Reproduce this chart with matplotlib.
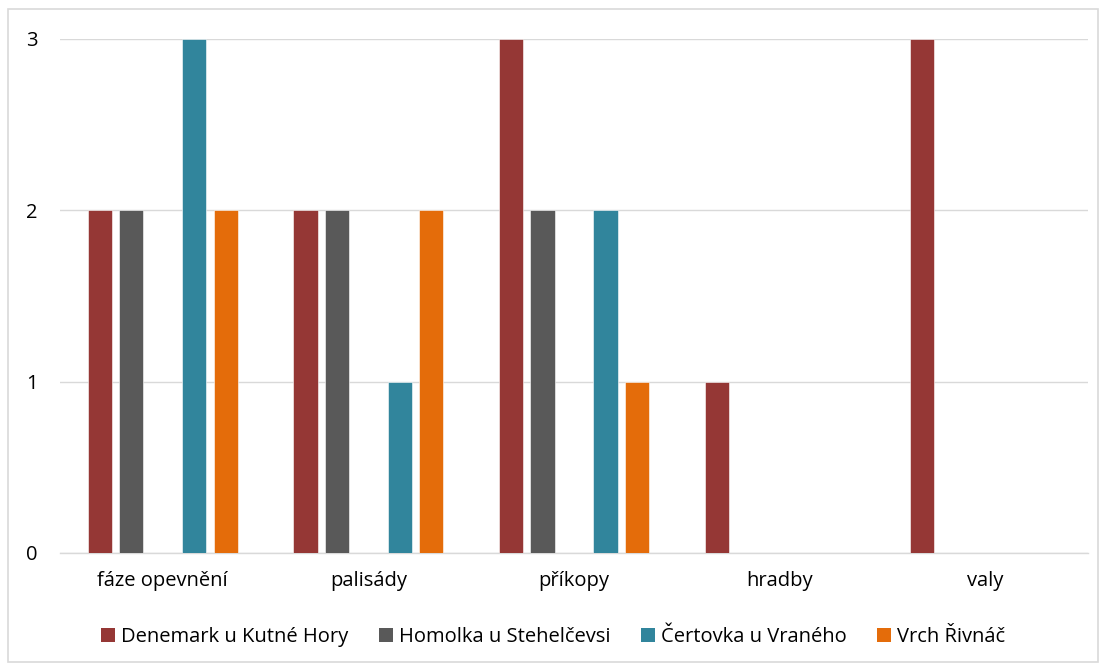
import matplotlib
matplotlib.use("Agg")
import matplotlib.pyplot as plt
from matplotlib.patches import Rectangle, Patch
import numpy as np

categories = ["fáze opevnění", "palisády", "příkopy", "hradby", "valy"]
series_names = ["Denemark u Kutné Hory", "Homolka u Stehelčevsi", "Čertovka u Vraného", "Vrch Řivnáč"]
denemark = [2, 2, 3, 1, 3]
homolka = [2, 2, 2, 0, 0]
certovka = [3, 1, 2, 0, 0]
vrch = [2, 2, 1, 0, 0]
yticks = [0, 1, 2, 3]

colors = ["#953735", "#595959", "#31859C", "#E46C0A"]
slots = [0, 1, 3, 4]  # slot 2 is empty in the reference

plt.rcParams['font.family'] = ['Open Sans', 'DejaVu Sans']
FS = 14.5

W, H = 1106, 670
fig = plt.figure(figsize=(W / 100, H / 100), dpi=100)
fig.patches.append(Rectangle((8 / W, 8 / H), 1090 / W, 653 / H, transform=fig.transFigure,
                             fill=False, edgecolor="#D9D9D9", linewidth=1.2))
ax = fig.add_axes([60 / W, (670 - 553) / H, 1028 / W, 514 / H])

x = np.arange(len(categories))
slot_w = 0.153
bar_w = 0.118
data = [denemark, homolka, certovka, vrch]
for vals, s, c, name in zip(data, slots, colors, series_names):
    ax.bar(x + (s - 2) * slot_w, vals, width=bar_w, color=c, label=name,
           edgecolor="white", linewidth=0.4, zorder=3)

ax.set_xlim(-0.5, len(categories) - 0.5)
ax.set_ylim(0, 3)
ax.set_yticks(yticks)
ax.set_yticklabels([str(t) for t in yticks], fontsize=FS, color="#000000")
ax.set_xticks(x)
ax.set_xticklabels(categories, fontsize=FS, color="#000000")
ax.tick_params(axis="y", length=0, pad=16)
ax.tick_params(axis="x", length=0, pad=13)
ax.grid(axis="y", color="#D9D9D9", linewidth=1.0, zorder=0)
for sp in ["top", "right", "left"]:
    ax.spines[sp].set_visible(False)
ax.spines["bottom"].set_color("#D9D9D9")
ax.spines["bottom"].set_linewidth(1.0)

handles = [Patch(facecolor=c, label=n) for c, n in zip(colors, series_names)]
fig.legend(handles=handles, loc="center", bbox_to_anchor=(0.5, (670 - 637) / H), ncol=4,
           frameon=False, fontsize=FS, handlelength=0.7, handleheight=0.7,
           handletextpad=0.3, columnspacing=1.5)

fig.savefig("out.png", dpi=100)
